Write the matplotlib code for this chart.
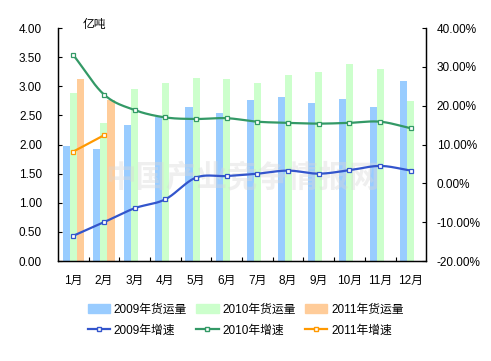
import numpy as np
import matplotlib
matplotlib.use("Agg")
from matplotlib import pyplot as plt
from matplotlib.lines import Line2D
from matplotlib.patches import Patch
from matplotlib.ticker import FuncFormatter

plt.rcParams['font.family'] = ['Liberation Sans', 'Noto Sans CJK SC', 'DejaVu Sans']

months = ['1月', '2月', '3月', '4月', '5月', '6月', '7月', '8月', '9月', '10月', '11月', '12月']
vol_2009 = [1.97, 1.93, 2.33, 2.48, 2.64, 2.54, 2.76, 2.81, 2.72, 2.78, 2.64, 3.09]
vol_2010 = [2.88, 2.37, 2.95, 3.05, 3.14, 3.12, 3.06, 3.20, 3.24, 3.39, 3.29, 2.75]
vol_2011 = [3.12, 2.77]
growth_2009 = [-13.5, -10.0, -6.4, -4.1, 1.5, 1.9, 2.5, 3.3, 2.5, 3.4, 4.5, 3.3]
growth_2010 = [33.1, 22.9, 18.9, 17.0, 16.6, 16.8, 15.9, 15.6, 15.4, 15.6, 15.9, 14.2]
growth_2011 = [8.2, 12.4]

c_bar09, c_bar10, c_bar11 = '#99ccff', '#ccffcc', '#ffcc99'
c_ln09, c_ln10, c_ln11 = '#3355cc', '#339966', '#ff9900'


def smooth(x, y, n=20):
    # catmull-rom curve through the points (excel style smoothed line)
    x = np.asarray(x, float)
    y = np.asarray(y, float)
    if len(x) < 3:
        return x, y
    px = np.concatenate([[2 * x[0] - x[1]], x, [2 * x[-1] - x[-2]]])
    py = np.concatenate([[2 * y[0] - y[1]], y, [2 * y[-1] - y[-2]]])
    xs, ys = [], []
    t = np.linspace(0, 1, n, endpoint=False)
    for i in range(1, len(px) - 2):
        for arr, out in ((px, xs), (py, ys)):
            p0, p1, p2, p3 = arr[i - 1], arr[i], arr[i + 1], arr[i + 2]
            out.extend(0.5 * (2 * p1 + (-p0 + p2) * t + (2 * p0 - 5 * p1 + 4 * p2 - p3) * t ** 2
                              + (-p0 + 3 * p1 - 3 * p2 + p3) * t ** 3))
    xs.append(x[-1])
    ys.append(y[-1])
    return np.array(xs), np.array(ys)


fig = plt.figure(figsize=(4.91, 3.61), dpi=100)
ax = fig.add_axes([0.118, 0.277, 0.750, 0.645])
ax2 = ax.twinx()

x = np.arange(len(months))
w = 0.23
ax.bar(x - w, vol_2009, w, color=c_bar09, zorder=2)
ax.bar(x, vol_2010, w, color=c_bar10, zorder=2)
ax.bar(x[:len(vol_2011)] + w, vol_2011, w, color=c_bar11, zorder=2)

for vals, col in ((growth_2009, c_ln09), (growth_2010, c_ln10), (growth_2011, c_ln11)):
    xi = x[:len(vals)]
    sx, sy = smooth(xi, vals)
    ax2.plot(sx, sy, color=col, lw=1.6, zorder=3)
    ax2.plot(xi, vals, ls='none', marker='s', ms=3.0, mfc='white', mec=col, mew=0.9, zorder=4)

ax.set_xlim(-0.5, 11.5)
ax.set_ylim(0, 4)
ax.set_yticks(np.arange(0, 4.01, 0.5))
ax.yaxis.set_major_formatter(FuncFormatter(lambda v, p: '%.2f' % v))
ax2.set_ylim(-20, 40)
ax2.set_yticks(np.arange(-20, 41, 10))
ax2.yaxis.set_major_formatter(FuncFormatter(lambda v, p: '%.2f%%' % v))

ax.set_xticks(x)
ax.set_xticklabels(months)
ax.set_xticks(np.arange(0.5, 11, 1), minor=True)
ax.tick_params(axis='x', which='major', length=0, pad=10, labelsize=8.5)
ax.tick_params(axis='x', which='minor', direction='in', length=3, width=0.8)
ax.tick_params(axis='y', direction='in', length=3, width=0.8, labelsize=8.5, pad=11.5)
ax2.tick_params(axis='y', direction='in', length=3, width=0.8, labelsize=8.5, pad=7.5)

for a in (ax, ax2):
    a.spines['top'].set_visible(False)
    for s in ('left', 'right', 'bottom'):
        a.spines[s].set_linewidth(0.9)

ax.text(0.068, 1.013, '亿吨', transform=ax.transAxes, fontsize=8.5, va='center', ha='left')

# faint watermark
ax.text(0.5, 0.36, '中国产业竞争情报网', transform=ax.transAxes, fontsize=22, fontweight='bold',
        color='#d8d8d8', alpha=0.4, ha='center', va='center', zorder=5,
        family=['Noto Sans CJK SC'])

handles = [Patch(color=c_bar09), Patch(color=c_bar10), Patch(color=c_bar11),
           Line2D([], [], color=c_ln09, lw=1.6, marker='s', ms=3, mfc='white', mec=c_ln09),
           Line2D([], [], color=c_ln10, lw=1.6, marker='s', ms=3, mfc='white', mec=c_ln10),
           Line2D([], [], color=c_ln11, lw=1.6, marker='s', ms=3, mfc='white', mec=c_ln11)]
labels = ['2009年货运量', '2010年货运量', '2011年货运量', '2009年增速', '2010年增速', '2011年增速']
order = [0, 3, 1, 4, 2, 5]
fig.legend([handles[i] for i in order], [labels[i] for i in order], ncol=3,
           loc='center', bbox_to_anchor=(0.5, 0.113), frameon=False, fontsize=8.5,
           handlelength=1.9, handleheight=0.8, handletextpad=0.3, columnspacing=0.8,
           labelspacing=0.75)

fig.savefig('out.png', dpi=100)
